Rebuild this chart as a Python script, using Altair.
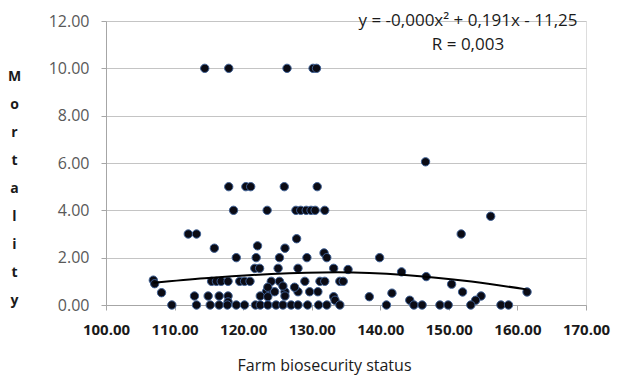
import altair as alt
import pandas as pd

# Farm biosecurity status (x) and mortality (y)
biosecurity = [
    114.4, 117.9, 126.4, 130.2, 130.7,
    146.6,
    117.9, 120.4, 121.1, 126.0, 130.8,
    118.6, 123.5, 127.7, 128.4, 129.2, 129.9, 130.5, 131.9,
    156.1,
    112.0, 113.2, 151.8,
    127.8, 122.1, 115.8, 126.1, 131.8,
    119.0, 121.9, 125.3, 129.3, 132.2, 139.9,
    121.7, 122.4, 125.1, 128.0, 133.2, 135.3,
    143.1, 146.7,
    106.9, 115.4, 116.1, 116.8, 117.8, 119.5, 120.2, 121.0, 124.1, 125.3,
    129.0, 131.2, 131.9, 134.1, 134.6,
    107.1, 150.4,
    108.1, 123.4, 124.6, 126.1, 128.0, 129.7, 130.9, 141.7, 152.0, 161.4,
    123.6, 125.8, 127.5,
    112.9, 114.9, 116.5, 117.8, 122.5, 123.6, 126.1, 133.2, 138.4, 154.7,
    117.8, 133.4, 144.3, 153.9,
    109.6, 113.2, 115.2, 116.5, 117.7, 119.0, 120.2, 121.8, 122.5, 123.6,
    124.8, 125.8, 127.0, 128.0, 129.4, 131.0, 132.2, 134.1, 140.9, 144.9,
    146.1, 148.7, 149.9, 153.2, 157.6, 158.7,
]
mortality = [
    10.0, 10.0, 10.0, 10.0, 10.0,
    6.05,
    5.0, 5.0, 5.0, 5.0, 5.0,
    4.0, 4.0, 4.0, 4.0, 4.0, 4.0, 4.0, 4.0,
    3.75,
    3.0, 3.0, 3.0,
    2.8, 2.5, 2.4, 2.4, 2.2,
    2.0, 2.0, 2.0, 2.0, 2.0, 2.0,
    1.55, 1.55, 1.55, 1.55, 1.55, 1.5,
    1.4, 1.2,
    1.05, 1.0, 1.0, 1.0, 1.0, 1.0, 1.0, 1.0, 1.0, 1.0,
    1.0, 1.0, 1.0, 1.0, 1.0,
    0.9, 0.88,
    0.52, 0.56, 0.56, 0.56, 0.56, 0.56, 0.56, 0.5, 0.55, 0.55,
    0.75, 0.8, 0.75,
    0.38, 0.38, 0.38, 0.38, 0.38, 0.35, 0.38, 0.35, 0.35, 0.38,
    0.13, 0.2, 0.2, 0.2,
    0.0, 0.0, 0.0, 0.0, 0.0, 0.0, 0.0, 0.0, 0.0, 0.0,
    0.0, 0.0, 0.0, 0.0, 0.0, 0.0, 0.0, 0.0, 0.0, 0.0,
    0.0, 0.0, 0.0, 0.0, 0.0, 0.0,
]

# Polynomial trend line
trend_x = [106.9, 114.4, 124.1, 133.8, 143.6, 153.3, 161.3]
trend_y = [0.94, 1.13, 1.31, 1.38, 1.27, 0.99, 0.66]

x_ticks = [100, 110, 120, 130, 140, 150, 160, 170]
y_ticks = [0, 2, 4, 6, 8, 10, 12]
x_title = "Farm biosecurity status"
y_title_letters = ["M", "o", "r", "t", "a", "l", "i", "t", "y"]
equation = "y = -0,000x² + 0,191x - 11,25"
r_text = "R = 0,003"

df = pd.DataFrame({"x": biosecurity, "y": mortality})
trend_df = pd.DataFrame({"x": trend_x, "y": trend_y})

FONT = "Open Sans"

xs = alt.X(
    "x:Q",
    scale=alt.Scale(domain=[100, 170], nice=False, zero=False),
    axis=alt.Axis(
        values=x_ticks, format=".2f", grid=False,
        labelOverlap=False, labelFlush=False,
        domainColor="#a6a6a6", tickColor="#a6a6a6", tickSize=5,
        labelFont=FONT, labelFontSize=15, labelFontWeight="bold",
        labelColor="#1a1a1a", labelPadding=12,
        title=x_title, titleFont=FONT, titleFontSize=16,
        titleFontWeight="normal", titleColor="#1a1a1a",
        titleX=218, titleY=60, titleBaseline="middle",
    ),
)
ys = alt.Y(
    "y:Q",
    scale=alt.Scale(domain=[0, 12], nice=False),
    axis=alt.Axis(
        values=y_ticks, format=".2f", grid=True, gridColor="#c4c4c4",
        labelOverlap=False, labelFlush=False,
        domainColor="#a6a6a6", tickColor="#a6a6a6", tickSize=5,
        labelFont=FONT, labelFontSize=16, labelColor="#595959",
        labelPadding=12,
        title=y_title_letters, titleAngle=0, titleFont=FONT,
        titleFontSize=14, titleFontWeight="bold", titleColor="#1a1a1a",
        titleLineHeight=28, titleX=-92, titleY=48,
        titleBaseline="top", titleAlign="center",
    ),
)

points = alt.Chart(df).mark_point(
    filled=True, size=70, fill="#0b0b14", stroke="#3d5f94",
    strokeWidth=1, opacity=1,
).encode(x=xs, y=ys)

trend = alt.Chart(trend_df).mark_line(
    color="#000000", strokeWidth=2, interpolate="monotone"
).encode(x="x:Q", y="y:Q")

eq1 = alt.Chart(pd.DataFrame({"t": [equation]})).mark_text(
    font=FONT, fontSize=17, color="#1a1a1a", align="center", baseline="middle"
).encode(x=alt.value(362), y=alt.value(0), text="t:N")

eq2 = alt.Chart(pd.DataFrame({"t": [r_text]})).mark_text(
    font=FONT, fontSize=17, color="#1a1a1a", align="center", baseline="middle"
).encode(x=alt.value(362), y=alt.value(24), text="t:N")

chart = alt.layer(points, trend, eq1, eq2).properties(
    width=480, height=284,
    autosize=alt.AutoSizeParams(type="none"),
    padding={"left": 98, "top": 13, "right": 25, "bottom": 72},
).configure_view(stroke=None).configure(background="white")

chart.save("out.html", embed_options={"renderer": "svg", "actions": False})
